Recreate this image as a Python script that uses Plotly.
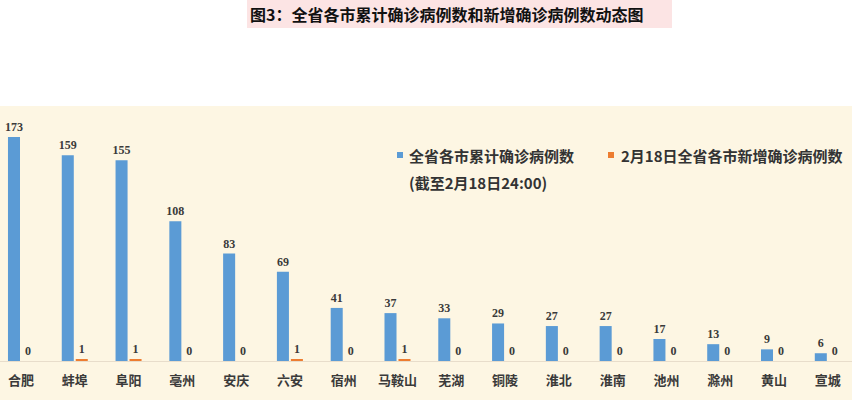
import plotly.graph_objects as go

# 各市数据(截至2月18日24:00)
cities = ['合肥', '蚌埠', '阜阳', '亳州', '安庆', '六安', '宿州', '马鞍山',
          '芜湖', '铜陵', '淮北', '淮南', '池州', '滁州', '黄山', '宣城']
total_cases = [173, 159, 155, 108, 83, 69, 41, 37, 33, 29, 27, 27, 17, 13, 9, 6]
new_cases = [0, 1, 1, 0, 0, 1, 0, 1, 0, 0, 0, 0, 0, 0, 0, 0]

title_text = '图3：全省各市累计确诊病例数和新增确诊病例数动态图'
name_total = '全省各市累计确诊病例数'
name_total_note = '(截至2月18日24:00)'
name_new = '2月18日全省各市新增确诊病例数'

BLUE = '#5B9BD5'
ORANGE = '#ED7D31'
CREAM = '#FDF6E3'
CJK = 'Noto Sans CJK SC'
NUM_FONT = dict(family='Liberation Serif', size=12, color='#3A3A3A', weight='bold')

H_PLOT = 255  # 绘图区高度(px)


def py(px_from_top):
    # 像素 -> paper 坐标(绘图区顶部在 106px)
    return 1 - (px_from_top - 106) / H_PLOT


fig = go.Figure()
fig.add_trace(go.Bar(x=cities, y=total_cases, name=name_total,
                     marker=dict(color=BLUE, line=dict(width=0)),
                     text=total_cases, textposition='outside', constraintext='none',
                     textfont=NUM_FONT, cliponaxis=False))
fig.add_trace(go.Bar(x=cities, y=new_cases, name=name_new,
                     marker=dict(color=ORANGE, line=dict(width=0)),
                     text=new_cases, textposition='outside', constraintext='none',
                     textfont=NUM_FONT, cliponaxis=False))

# 奶油色底 + 标题粉色框
fig.add_shape(type='rect', xref='paper', yref='paper', x0=0, x1=1, y0=py(400), y1=1,
              fillcolor=CREAM, line=dict(width=0), layer='below')
fig.add_shape(type='rect', xref='paper', yref='paper', x0=247 / 852, x1=672 / 852,
              y0=py(28), y1=py(0),
              fillcolor='#FCE4E4', line=dict(width=0), layer='below')
fig.add_annotation(text=title_text, xref='paper', yref='paper', x=446 / 852, y=py(14),
                   yanchor='middle', showarrow=False,
                   font=dict(family=CJK, size=16, color='#111111', weight='bold'))

# 图例(手动摆放)
leg_font = dict(family=CJK, size=15, color='#333333', weight='bold')
for x0, col in [(397, BLUE), (608, ORANGE)]:
    fig.add_shape(type='rect', xref='paper', yref='paper', x0=x0 / 852, x1=(x0 + 6) / 852,
                  y0=py(158), y1=py(152), fillcolor=col, line=dict(width=0))
fig.add_annotation(text=name_total, xref='paper', yref='paper', x=407 / 852, y=py(155),
                   xanchor='left', yanchor='middle', showarrow=False, font=leg_font)
fig.add_annotation(text=name_total_note, xref='paper', yref='paper', x=407 / 852, y=py(182),
                   xanchor='left', yanchor='middle', showarrow=False, font=leg_font)
fig.add_annotation(text=name_new, xref='paper', yref='paper', x=619 / 852, y=py(155),
                   xanchor='left', yanchor='middle', showarrow=False, font=leg_font)

fig.update_layout(
    width=852, height=400,
    margin=dict(l=0, r=0, t=106, b=39),
    paper_bgcolor='white', plot_bgcolor=CREAM,
    barmode='group', bargap=0.48, bargroupgap=0.14,
    showlegend=False,
    xaxis=dict(range=[-0.39, 15.45], showline=True, linecolor='#E8DDCB', linewidth=1,
               showgrid=False, ticks='', ticklabelstandoff=7,
               tickfont=dict(family=CJK, size=13, color='#3A3A3A', weight='bold')),
    yaxis=dict(range=[0, 197], visible=False),
)

fig.write_html('out.html', config={'displayModeBar': False},
               post_script="document.body.style.margin='0';")
